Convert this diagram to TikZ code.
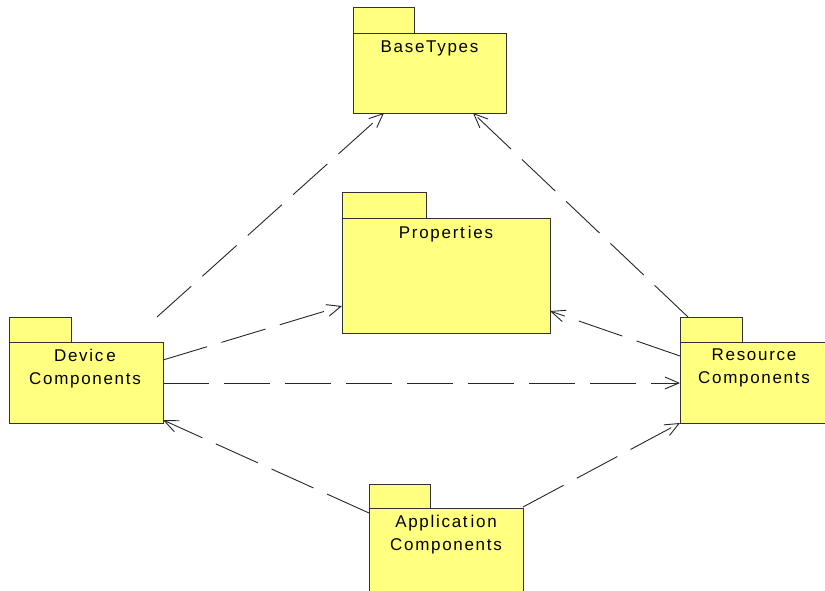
\documentclass[tikz,border=0pt]{standalone}
\usepackage{fontspec}
\setmainfont{Liberation Sans}
\usetikzlibrary{arrows.meta,calc}
\definecolor{pkgyellow}{RGB}{255,255,128}
\definecolor{pkgline}{RGB}{50,50,50}
\begin{document}
\begin{tikzpicture}[x=1pt,y=-1pt,
  pkgarea/.style={inner sep=0pt, outer sep=0pt, anchor=north west},
  pkgshape/.style={fill=pkgyellow, draw=pkgline, line width=1pt},
  pkglabel/.style={font=\fontsize{17}{23}\selectfont\addfontfeatures{LetterSpace=10},
    align=center, inner sep=0pt, text=black, anchor=base},
  dep/.style={draw=black!85, line width=0.9pt, dash pattern=on 46pt off 15pt,
    -{Straight Barb[length=14pt,width=12pt]}}
]
\useasboundingbox (0,0) rectangle (825,590);
\begin{scope}
\clip (0,0) rectangle (825,590);

% package areas (tab + body)
\node[pkgarea, minimum width=153pt, minimum height=106pt] (base)  at (353,7)   {};
\node[pkgarea, minimum width=208pt, minimum height=141pt] (props) at (342,192) {};
\node[pkgarea, minimum width=154pt, minimum height=106pt] (dev)   at (9,317)   {};
\node[pkgarea, minimum width=148pt, minimum height=106pt] (res)   at (680,317) {};
\node[pkgarea, minimum width=154pt, minimum height=108pt] (app)   at (369,484) {};

% tabs
\draw[pkgshape] (base.north west)  rectangle ++(61,26);
\draw[pkgshape] (props.north west) rectangle ++(84,26);
\draw[pkgshape] (dev.north west)   rectangle ++(62,25);
\draw[pkgshape] (res.north west)   rectangle ++(62,25);
\draw[pkgshape] (app.north west)   rectangle ++(61,24);

% bodies
\draw[pkgshape] ($(base.north west)+(0,26)$)  rectangle (base.south east);
\draw[pkgshape] ($(props.north west)+(0,26)$) rectangle (props.south east);
\draw[pkgshape] ($(dev.north west)+(0,25)$)   rectangle (dev.south east);
\draw[pkgshape] ($(res.north west)+(0,25)$)   rectangle (res.south east);
\draw[pkgshape] ($(app.north west)+(0,24)$)   rectangle (app.south east);

% names (base anchor of a two-line label sits on its second line)
\node[pkglabel] (baseT)  at ($(base.north)+(0,45)$)  {BaseTypes};
\node[pkglabel] (propsT) at ($(props.north)+(0,46)$) {Propert\kern3pt ies};
\node[pkglabel] (devT)   at ($(dev.north)+(-1,67)$)  {Devic\kern3pt e\\Components};
\node[pkglabel] (resT)   at ($(res.north)+(0,66)$)   {Resource\\Components};
\node[pkglabel] (appT)   at ($(app.north)+(0,66)$)   {Applicat\kern3pt ion\\Components};

% dependencies
\draw[dep] ($(dev.north west)+(148,0)$) -- ($(base.south west)+(31,0)$);
\draw[dep] ($(res.north west)+(8,0)$)   -- ($(base.south west)+(120,0)$);
\draw[dep] ($(dev.north east)+(0,43)$)  -- ($(props.south west)+(0,-27)$);
\draw[dep] ($(res.north west)+(0,39)$)  -- ($(props.south east)+(0,-22)$);
\draw[dep] ($(dev.east)+(0,13)$)        -- ($(res.west)+(0,13)$);
\draw[dep] ($(app.north west)+(0,29)$)  -- ($(dev.south east)+(0,-3)$);
\draw[dep] ($(app.north east)+(0,23)$)  -- (res.south west);
\end{scope}
\end{tikzpicture}
\end{document}
